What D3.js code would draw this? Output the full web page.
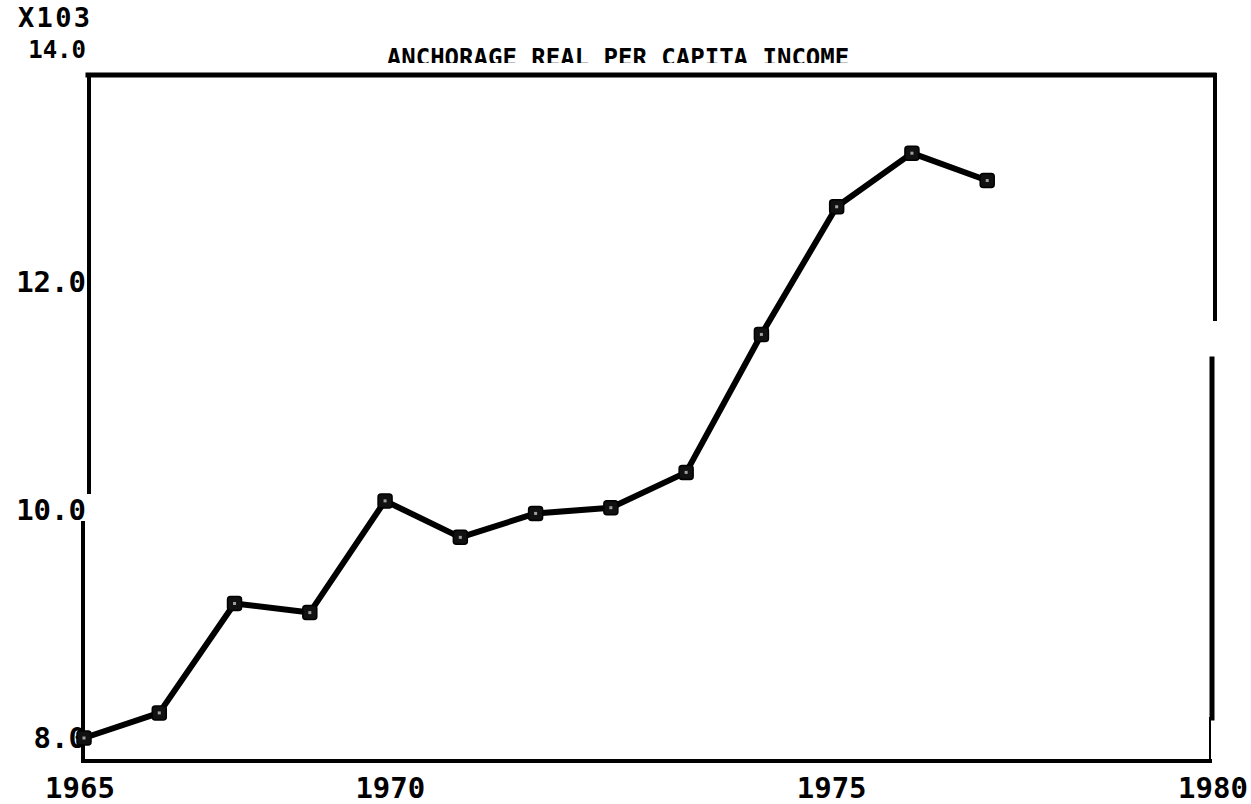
<!DOCTYPE html>
<html>
<head>
<meta charset="utf-8">
<script src="https://cdn.jsdelivr.net/npm/d3@7"></script>
<style>
  html, body { margin: 0; padding: 0; background: #fff; }
  svg { display: block; }
  text { font-family: "DejaVu Sans Mono", monospace; font-weight: bold; fill: #000; }
</style>
</head>
<body>
<svg id="chart" width="1251" height="804"></svg>
<script>
// ---- data ----
const title = "ANCHORAGE REAL PER CAPITA INCOME";
const scaleNote = "X103";
const years = [1965, 1966, 1967, 1968, 1969, 1970, 1971, 1972, 1973, 1974, 1975, 1976, 1977];
const income = [8.00, 8.22, 9.18, 9.10, 10.08, 9.76, 9.97, 10.02, 10.33, 11.54, 12.66, 13.13, 12.89];
const xTicks = [1965, 1970, 1975, 1980];
const xTickLabels = ["1965", "1970", "1975", "1980"];
const yTicks = [8, 10, 12, 14];
const yTickLabels = ["8.0", "10.0", "12.0", "14.0"];

const svg = d3.select("#chart");
const x = d3.scaleLinear().domain([1965, 1980]).range([84, 1213]);
const y = d3.scaleLinear().domain([8, 14]).range([738, 54]);

// frame (plotter border with small gaps, as in the scan)
const frame = svg.append("g").attr("stroke", "#000").attr("fill", "none").attr("stroke-linecap", "square");
frame.append("line").attr("x1", 88).attr("y1", 75).attr("x2", 1214).attr("y2", 75).attr("stroke-width", 5);
frame.append("line").attr("x1", 89).attr("y1", 75).attr("x2", 89).attr("y2", 492).attr("stroke-width", 4);
frame.append("line").attr("x1", 83).attr("y1", 523).attr("x2", 83).attr("y2", 761).attr("stroke-width", 4);
frame.append("line").attr("x1", 83).attr("y1", 761).attr("x2", 1210).attr("y2", 761).attr("stroke-width", 4);
frame.append("line").attr("x1", 1215).attr("y1", 75).attr("x2", 1215).attr("y2", 319).attr("stroke-width", 4);
frame.append("line").attr("x1", 1212).attr("y1", 359).attr("x2", 1212).attr("y2", 718).attr("stroke-width", 5);
frame.append("line").attr("x1", 1210).attr("y1", 718).attr("x2", 1210).attr("y2", 760).attr("stroke-width", 2);

// title (bottom clipped by the scan)
svg.append("clipPath").attr("id", "tclip").append("rect").attr("x", 0).attr("y", 0).attr("width", 1251).attr("height", 63);
svg.append("text").attr("clip-path", "url(#tclip)")
  .attr("x", 618).attr("y", 66).attr("text-anchor", "middle")
  .attr("font-size", 24)
  .text(title);

// scale note
svg.append("text").attr("x", 18).attr("y", 27).attr("font-size", 27)
  .attr("textLength", 72).attr("lengthAdjust", "spacing").text(scaleNote);

// y tick labels
svg.append("g").selectAll("text").data(yTicks).join("text")
  .attr("x", 86).attr("y", d => y(d)).attr("dy", "0.36em")
  .attr("text-anchor", "end").attr("font-size", d => d === 14 ? 24 : 29)
  .attr("transform", d => d === 14 ? "translate(0,-5)" : null)
  .text((d, i) => yTickLabels[i]);

// x tick labels (the plotter set the 1970 label a little to the left)
const labelNudge = { 1965: -4, 1970: -70, 1975: -5, 1980: 0 };
svg.append("g").selectAll("text").data(xTicks).join("text")
  .attr("x", d => x(d) + labelNudge[d]).attr("y", 798)
  .attr("text-anchor", "middle").attr("font-size", 29)
  .text((d, i) => xTickLabels[i]);

// line
const pts = years.map((yr, i) => [x(yr), y(income[i])]);
svg.append("path").attr("d", d3.line()(pts))
  .attr("fill", "none").attr("stroke", "#000").attr("stroke-width", 6)
  .attr("stroke-linejoin", "round").attr("stroke-linecap", "round");

// markers
svg.append("g").selectAll("rect").data(pts).join("rect")
  .attr("x", d => d[0] - 7).attr("y", d => d[1] - 7)
  .attr("width", 14).attr("height", 14).attr("rx", 3)
  .attr("fill", "#111").attr("stroke", "#000").attr("stroke-width", 1.5);
svg.append("g").selectAll("rect").data(pts).join("rect")
  .attr("x", d => d[0] - 1.5).attr("y", d => d[1] - 1.5)
  .attr("width", 3).attr("height", 3).attr("fill", "#fff").attr("opacity", 0.6);
</script>
</body>
</html>
